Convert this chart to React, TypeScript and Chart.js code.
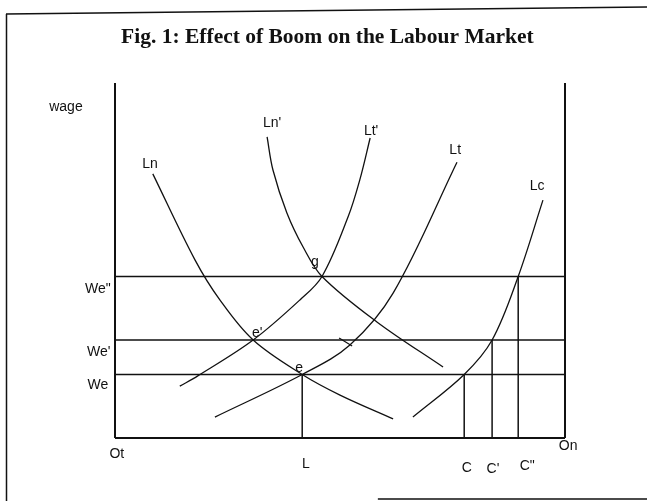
import React, { useEffect, useRef } from "react";
import { Chart, registerables } from "chart.js";

Chart.register(...registerables);

// ---- Title ----
const TITLE = "Fig. 1: Effect of Boom on the Labour Market";

// ---- Wage levels (vertical axis, 0..100) ----
const WE = 17.9;
const WE_P = 27.6;
const WE_PP = 45.5;

// ---- Employment points (horizontal axis, Ot = 0 .. On = 100) ----
const L_X = 41.6;
const C_X = 77.6;
const CP_X = 83.8;
const CPP_X = 89.6;
const AXIS_MAX = 100;

// ---- Curves ----
const lnX = [8.4, 17.8, 23.3, 30.7, L_X, 50.0, 61.8];
const lnY = [74.4, 50.1, 38.9, WE_P, WE, 12.1, 5.4];

const lnPX = [33.8, 35.1, 38.2, 41.8, 46.0, 58.2, 72.9];
const lnPY = [84.8, 75.5, 63.4, 53.8, WE_PP, 32.7, 20.0];

const ltPX = [14.4, 18.4, 30.7, 41.1, 46.0, 51.8, 54.4, 56.7];
const ltPY = [14.6, 17.5, WE_P, 38.9, WE_PP, 62.3, 72.7, 84.5];

const ltX = [22.2, L_X, 52.2, 61.8, 76.0];
const ltY = [5.9, WE, 26.2, 40.8, 77.7];

const lcX = [66.2, C_X, CP_X, CPP_X, 95.1];
const lcY = [5.9, WE, WE_P, WE_PP, 67.0];

const tickX = [49.8, 52.7];
const tickY = [28.2, 25.9];

// ---- Text labels (data coordinates) ----
const labelText = ["wage", "Ln", "Ln'", "Lt'", "Lt", "Lc", "g", "e'", "e", "We\"", "We'", "We", "Ot", "L", "C", "C'", "C\"", "On"];
const labelX = [-10.9, 7.8, 34.9, 56.9, 75.6, 93.8, 44.4, 31.6, 40.9, -3.8, -3.6, -3.8, 0.4, 42.4, 78.2, 84.0, 91.6, 100.7];
const labelY = [93.2, 77.2, 88.7, 86.5, 81.1, 71.0, 49.6, 29.6, 19.7, 42.0, 24.2, 14.9, -4.5, -7.3, -8.5, -8.7, -7.9, -2.3];

const zip = (xs: number[], ys: number[]) => xs.map((x, i) => ({ x, y: ys[i] }));

const INK = "#111111";

function lineDs(data: { x: number; y: number }[], width: number, smooth: boolean) {
  return {
    data,
    showLine: true,
    borderColor: INK,
    backgroundColor: INK,
    borderWidth: width,
    pointRadius: 0,
    pointHoverRadius: 0,
    tension: smooth ? 0.35 : 0,
    clip: false as const,
  };
}

const framePlugin = {
  id: "frame",
  beforeDraw(chart: any) {
    const { ctx, width, height } = chart;
    ctx.save();
    ctx.fillStyle = "#ffffff";
    ctx.fillRect(0, 0, width, height);
    ctx.strokeStyle = INK;
    ctx.lineWidth = 1.5;
    ctx.beginPath();
    ctx.moveTo(6.5, 14);
    ctx.lineTo(6.5, height);
    ctx.moveTo(6, 14);
    ctx.lineTo(width, 7);
    ctx.moveTo(width * 0.584, height - 2);
    ctx.lineTo(width, height - 2);
    ctx.stroke();
    // title
    ctx.fillStyle = INK;
    ctx.font = "bold 21.5px 'Liberation Serif', 'Times New Roman', serif";
    ctx.textAlign = "center";
    ctx.textBaseline = "alphabetic";
    ctx.fillText(TITLE, width * 0.506, 43);
    ctx.restore();
  },
};

const labelPlugin = {
  id: "labels",
  afterDatasetsDraw(chart: any) {
    const { ctx, scales } = chart;
    ctx.save();
    ctx.fillStyle = INK;
    ctx.font = "14px 'Liberation Sans', Arial, sans-serif";
    ctx.textAlign = "center";
    ctx.textBaseline = "middle";
    labelText.forEach((t, i) => {
      ctx.fillText(t, scales.x.getPixelForValue(labelX[i]), scales.y.getPixelForValue(labelY[i]));
    });
    ctx.restore();
  },
};

export default function App() {
  const ref = useRef<HTMLCanvasElement | null>(null);

  useEffect(() => {
    if (!ref.current) return;
    const datasets = [
      // axes
      lineDs(zip([0, 0], [0, AXIS_MAX]), 2, false),
      lineDs(zip([0, AXIS_MAX], [0, 0]), 2, false),
      lineDs(zip([AXIS_MAX, AXIS_MAX], [0, AXIS_MAX]), 2, false),
      // wage lines
      lineDs(zip([0, AXIS_MAX], [WE, WE]), 1.5, false),
      lineDs(zip([0, AXIS_MAX], [WE_P, WE_P]), 1.5, false),
      lineDs(zip([0, AXIS_MAX], [WE_PP, WE_PP]), 1.5, false),
      // employment drop lines
      lineDs(zip([L_X, L_X], [0, WE]), 1.5, false),
      lineDs(zip([C_X, C_X], [0, WE]), 1.5, false),
      lineDs(zip([CP_X, CP_X], [0, WE_P]), 1.5, false),
      lineDs(zip([CPP_X, CPP_X], [0, WE_PP]), 1.5, false),
      // curves
      lineDs(zip(lnX, lnY), 1.3, true),
      lineDs(zip(lnPX, lnPY), 1.3, true),
      lineDs(zip(ltPX, ltPY), 1.3, true),
      lineDs(zip(ltX, ltY), 1.3, true),
      lineDs(zip(lcX, lcY), 1.3, true),
      lineDs(zip(tickX, tickY), 1.2, false),
    ];
    const chart = new Chart(ref.current, {
      type: "scatter",
      data: { datasets },
      options: {
        animation: false,
        responsive: false,
        devicePixelRatio: 1,
        layout: { padding: { left: 115, right: 82, top: 83, bottom: 63 } },
        scales: {
          x: { type: "linear", min: 0, max: AXIS_MAX, display: false },
          y: { type: "linear", min: 0, max: AXIS_MAX, display: false },
        },
        plugins: {
          legend: { display: false },
          tooltip: { enabled: false },
          title: { display: false },
        },
        events: [],
      },
      plugins: [framePlugin, labelPlugin],
    });
    return () => chart.destroy();
  }, []);

  return (
    <div style={{ position: "fixed", left: 0, top: 0, width: 647, height: 501, background: "#fff" }}>
      <canvas ref={ref} width={647} height={501} style={{ width: 647, height: 501, display: "block" }} />
    </div>
  );
}
